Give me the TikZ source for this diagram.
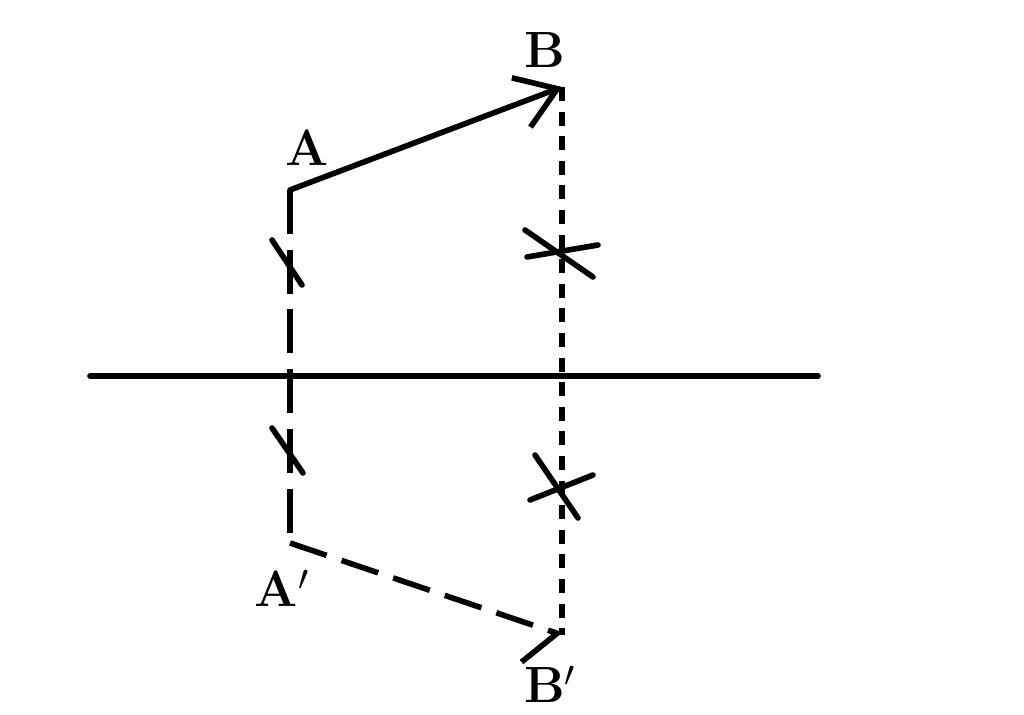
\documentclass[tikz,border=0pt]{standalone}
\usetikzlibrary{arrows.meta}

\begin{document}
\begin{tikzpicture}[x=0.02cm,y=-0.02cm,line width=3.2pt,line cap=round,
  lbl/.style={font=\fontsize{29}{30}\selectfont\bfseries,inner sep=0pt},
  bigdash/.style={dash pattern=on 25pt off 9pt,line cap=butt},
  smalldash/.style={dash pattern=on 8pt off 6pt,line cap=butt},
  imgdash/.style={dash pattern=on 22pt off 9pt,line cap=butt}]

  \useasboundingbox (0,0) rectangle (1024,715);

  % Points of the vector and its image
  \coordinate (A) at (290,190);
  \coordinate (B) at (562,87);
  \coordinate (Ai) at (290,543);
  \coordinate (Bi) at (562,635);
  \coordinate (axL) at (90,376);
  \coordinate (axR) at (818,376);

  % Axis of symmetry
  \draw (axL) -- (axR);

  % Vector AB
  \draw[-{Straight Barb[length=22pt,width=30pt]}] (A) -- (B);

  % Perpendiculars
  \draw[bigdash] (A) -- (Ai);
  \draw[smalldash] (B) -- (Bi);

  % Image vector A'B'
  \draw[imgdash,-{Straight Barb[right,length=14pt,width=44pt]}] (Ai) -- (Bi);

  % Equal-length marks
  \draw (272,240) -- (302,285); % single tick
  \draw (272,428) -- (303,473); % single tick
  \draw (525,230) -- (593,277); % cross
  \draw (527,257) -- (598,245);
  \draw (535,455) -- (578,518); % cross
  \draw (530,500) -- (593,475);

  % Labels
  \node[lbl] (labA) at (307,148) {A};
  \node[lbl] (labB) at (545,50) {B};
  \node[lbl] (labAi) at (282,588) {A$'$};
  \node[lbl] (labBi) at (550,684) {B$'$};

\end{tikzpicture}
\end{document}
